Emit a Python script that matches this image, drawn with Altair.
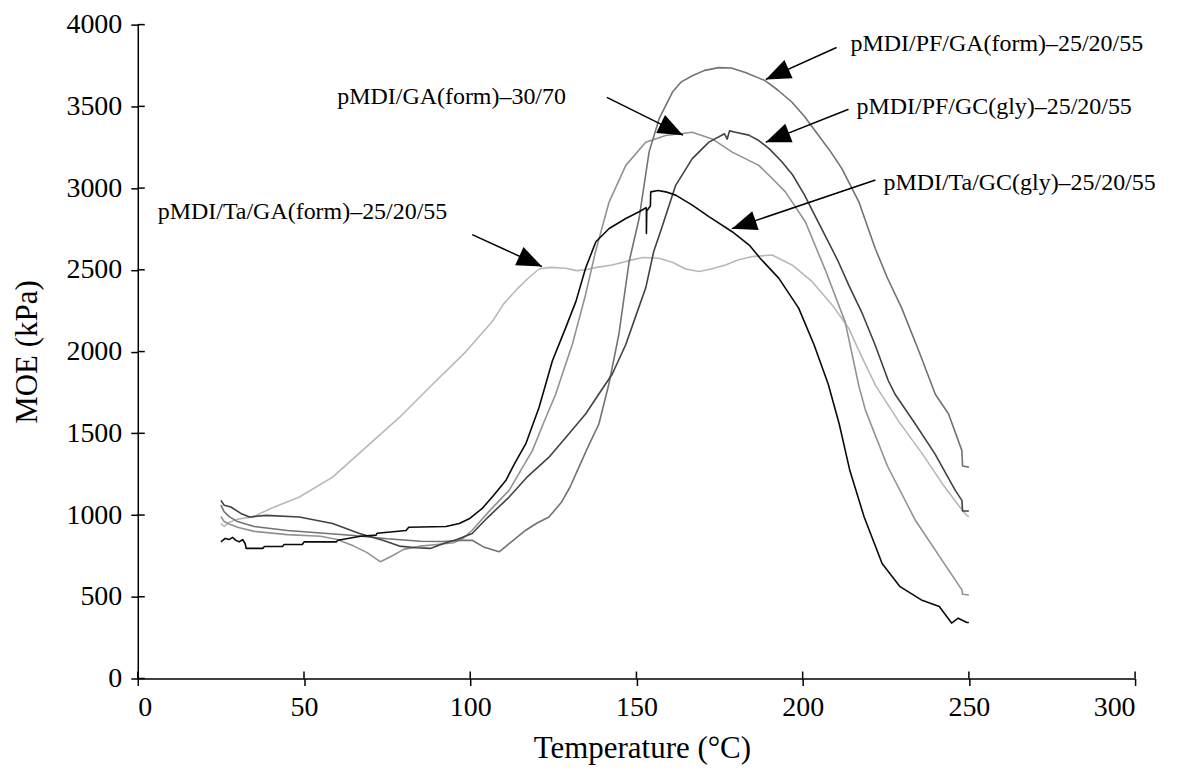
import math
import altair as alt
import pandas as pd

FONT = "Liberation Serif"

series_names = [
    "pMDI/Ta/GA(form)-25/20/55",
    "pMDI/GA(form)-30/70",
    "pMDI/PF/GA(form)-25/20/55",
    "pMDI/PF/GC(gly)-25/20/55",
    "pMDI/Ta/GC(gly)-25/20/55",
]
series_colors = ["#b8b8b8", "#929292", "#727272", "#424242", "#0a0a0a"]
series_widths = [1.6, 1.6, 1.6, 1.6, 2.0]

# pMDI/Ta/GA(form)-25/20/55 (lightest grey)
ta_ga_T = [25, 26, 27.5, 30, 34.6, 40, 48.6, 58.6, 68.6, 78.7, 88.7, 98.7, 106.7, 110, 114, 117.5,
           120.7, 124, 128.7, 132, 134.7, 138, 142.7, 148.7, 152, 156.8, 161, 164.8, 168.8, 172.5,
           176.8, 180.5, 184.8, 190.8, 196.8, 202.8, 208.8, 213.8, 217.5, 222, 229, 236, 242, 248,
           249.5, 250]
ta_ga_MOE = [948, 930, 955, 975, 988, 1040, 1110, 1232, 1414, 1597, 1800, 2000, 2185, 2290, 2380, 2450,
             2505, 2515, 2510, 2495, 2500, 2515, 2530, 2561, 2575, 2571, 2545, 2505, 2490, 2505,
             2530, 2560, 2581, 2591, 2530, 2429, 2287, 2145, 1980, 1790, 1570, 1374, 1192, 1029,
             995, 990]

# pMDI/GA(form)-30/70 (mid-light grey)
ga_T = [25, 26, 27.5, 30, 35, 45, 55, 60, 65, 69, 73, 76, 80, 85, 90, 95, 98, 100.6, 106, 111.7,
        118.7, 122, 125.7, 128, 130.7, 134.7, 137.7, 141.8, 146.8, 152.8, 158.8, 166.8, 172.8, 178.8,
        186.8, 190.8, 194.8, 200.8, 206.8, 212.8, 216.9, 218.9, 225.5, 233.9, 241.9, 247.9, 248.1, 250]
ga_MOE = [990, 960, 945, 925, 900, 880, 870, 850, 810, 770, 714, 745, 790, 810, 820, 830, 860, 907, 1030, 1151,
          1394, 1560, 1739, 1880, 2043, 2348, 2612, 2916, 3139, 3281, 3322, 3342, 3301, 3220,
          3139, 3060, 2977, 2794, 2500, 2180, 1790, 1640, 1300, 968, 724, 542, 515, 511]

# pMDI/PF/GA(form)-25/20/55 (mid grey)
pf_ga_T = [25, 26, 27.5, 30, 35, 45, 55, 65, 75, 85, 92, 97, 100.6, 104, 108.7, 112, 116.7, 120, 123.7,
           127.5, 130, 132.7, 135.5, 138.7, 141.7, 144.7, 147.8, 150.8, 153.8, 156.8, 160.8, 163.5,
           166.8, 170.5, 174.8, 178.5, 182.8, 188.8, 192.5, 196.8, 200.5, 204.8, 208.5, 211.8, 216.9,
           221.8, 225.5, 229.8, 235, 239.9, 243.9, 247.9, 248.1, 250]
pf_ga_MOE = [1060, 1020, 990, 960, 930, 905, 890, 875, 855, 840, 838, 845, 846, 805, 775, 830, 907, 950, 988,
             1080, 1170, 1293, 1420, 1557, 1800, 2104, 2550, 2814, 3220, 3423, 3586, 3650,
             3687, 3720, 3737, 3735, 3707, 3656, 3600, 3525, 3440, 3322, 3220, 3119, 2916,
             2632, 2450, 2266, 2000, 1739, 1618, 1394, 1300, 1293]

# pMDI/PF/GC(gly)-25/20/55 (dark grey)
pf_gc_T = [25, 26, 28, 31, 33.6, 38.6, 48.6, 58.6, 66.7, 73.7, 78.7, 83.7, 88, 92, 96, 100.6, 105, 111.7,
           117, 123.7, 129, 134.7, 138.7, 142.7, 146.8, 149.5, 152.8, 155.2, 157.5, 161.8, 166.8, 171.8,
           176.5, 177.3, 178, 179.8, 183.8, 186.8, 190, 193.8, 197, 200.5, 204, 207, 210.5, 214, 218,
           221.8, 225.8, 227.8, 233.9, 239.8, 245.9, 247.9, 248.1, 250]
pf_gc_MOE = [1090, 1060, 1049, 1010, 988, 998, 988, 948, 887, 846, 810, 800, 796, 826, 850, 887, 980, 1110,
             1230, 1354, 1480, 1618, 1740, 1861, 2043, 2200, 2390, 2612, 2750, 3017, 3180, 3281,
             3332, 3300, 3350, 3342, 3324, 3291, 3240, 3160, 3080, 2960, 2820, 2700, 2560, 2400, 2230,
             2040, 1820, 1739, 1557, 1374, 1151, 1090, 1025, 1025]

# pMDI/Ta/GC(gly)-25/20/55 (black)
ta_gc_T = [25, 26.3, 27.5, 28.5, 29.5, 30.5, 31.5, 32.3, 32.6, 37.6, 38.1, 43.6, 44, 49.5, 50, 59.7, 60.2,
           67, 71.7, 72, 80.7, 81.5, 92.7, 96.7, 99.7, 103.6, 107, 110.7, 113.5, 116.7, 120.7, 124.7,
           128.7, 131.8, 134.7, 137.8, 141.8, 146.8, 150.8, 152.9, 153, 153, 153.1, 154.2, 154.3,
           156.5, 158.8, 161.8, 166.8, 171.8, 178.8, 184, 187.2, 192.8, 198.8, 203.4, 207.7, 211,
           214.2, 218.5, 223.9, 229.3, 235.7, 241.1, 244.8, 246.8, 249.4, 250]
ta_gc_MOE = [836, 857, 850, 863, 845, 836, 850, 826, 796, 796, 808, 808, 820, 820, 836, 836, 846,
             870, 877, 889, 905, 925, 930, 948, 977, 1040, 1120, 1211, 1320, 1435, 1658, 1942,
             2145, 2307, 2510, 2672, 2753, 2814, 2855, 2880, 2870, 2723, 2860, 2890, 2977,
             2985, 2977, 2957, 2896, 2825, 2733, 2650, 2571, 2449, 2266, 2043, 1800, 1557,
             1272, 988, 704, 562, 481, 440, 339, 369, 343, 343]

x_ticks = [0, 50, 100, 150, 200, 250, 300]
y_ticks = [0, 500, 1000, 1500, 2000, 2500, 3000, 3500, 4000]

# annotations
ann_labels = ["pMDI/PF/GA(form)–25/20/55", "pMDI/GA(form)–30/70", "pMDI/PF/GC(gly)–25/20/55",
              "pMDI/Ta/GC(gly)–25/20/55", "pMDI/Ta/GA(form)–25/20/55"]
ann_text_T = [214.4, 60.0, 216.2, 224.3, 6.0]
ann_text_MOE = [3884, 3555, 3494, 3032, 2855]
arrow_from_T = [210.2, 141.1, 213.8, 221.9, 100.6]
arrow_from_MOE = [3860, 3555, 3482, 3050, 2715]
arrow_to_T = [188.9, 164.0, 188.9, 178.7, 121.6]
arrow_to_MOE = [3665, 3324, 3281, 2752, 2520]

W, H = 999, 655

rows = []
for name, ts, ms in [
    (series_names[0], ta_ga_T, ta_ga_MOE),
    (series_names[1], ga_T, ga_MOE),
    (series_names[2], pf_ga_T, pf_ga_MOE),
    (series_names[3], pf_gc_T, pf_gc_MOE),
    (series_names[4], ta_gc_T, ta_gc_MOE),
]:
    for i, (t, m) in enumerate(zip(ts, ms)):
        rows.append({"series": name, "T": t, "MOE": m, "i": i})
df = pd.DataFrame(rows)

angles = []
for x0, y0, x1, y1 in zip(arrow_from_T, arrow_from_MOE, arrow_to_T, arrow_to_MOE):
    dx = (x1 - x0) * W / 300.0
    dy = -(y1 - y0) * H / 4000.0
    angles.append(math.degrees(math.atan2(dx, -dy)) % 360)

ann = pd.DataFrame({
    "label": ann_labels, "tx": ann_text_T, "ty": ann_text_MOE,
    "x0": arrow_from_T, "y0": arrow_from_MOE, "x1": arrow_to_T, "y1": arrow_to_MOE,
    "angle": angles,
})

xscale = alt.Scale(domain=[0, 300], nice=False, zero=False)
yscale = alt.Scale(domain=[0, 4000], nice=False)

x_axis = alt.Axis(values=x_ticks, format="d", title="Temperature (°C)", titleX=505, titleY=70,
                  titleBaseline="middle", titleAlign="center", labelPadding=8)
y_axis = alt.Axis(values=y_ticks, format="d", title="MOE (kPa)", titleAngle=270, titleX=-110,
                  titleY=H / 2, titleBaseline="middle", titleAlign="center", labelPadding=9)

lines = alt.Chart(df).mark_line(strokeJoin="round", clip=False).encode(
    x=alt.X("T:Q", scale=xscale, axis=x_axis),
    y=alt.Y("MOE:Q", scale=yscale, axis=y_axis),
    color=alt.Color("series:N", scale=alt.Scale(domain=series_names, range=series_colors), legend=None),
    strokeWidth=alt.StrokeWidth("series:N", scale=alt.Scale(domain=series_names, range=series_widths),
                                legend=None),
    order=alt.Order("i:Q"),
)

arrows = alt.Chart(ann).mark_rule(color="black", strokeWidth=1.5).encode(
    x=alt.X("x0:Q", scale=xscale, axis=x_axis),
    y=alt.Y("y0:Q", scale=yscale, axis=y_axis),
    x2="x1:Q", y2="y1:Q",
)

heads = alt.Chart(ann).mark_point(shape="M0,0 L-0.8,2 L0.8,2 Z", size=625, filled=True,
                                  color="black", opacity=1, strokeWidth=0).encode(
    x=alt.X("x1:Q", scale=xscale, axis=x_axis),
    y=alt.Y("y1:Q", scale=yscale, axis=y_axis),
    angle=alt.Angle("angle:Q", scale=None),
)

labels = alt.Chart(ann).mark_text(align="left", baseline="middle", font=FONT, fontSize=24,
                                  color="black").encode(
    x=alt.X("tx:Q", scale=xscale, axis=x_axis),
    y=alt.Y("ty:Q", scale=yscale, axis=y_axis),
    text="label:N",
)

ytin = alt.Chart(pd.DataFrame({"v": y_ticks})).mark_rule(color="black", strokeWidth=1.5).encode(
    y=alt.Y("v:Q", scale=yscale, axis=y_axis), x=alt.value(0), x2=alt.value(7))
xtin = alt.Chart(pd.DataFrame({"v": x_ticks})).mark_rule(color="black", strokeWidth=1.5).encode(
    x=alt.X("v:Q", scale=xscale, axis=x_axis), y=alt.value(H), y2=alt.value(H - 7))

chart = alt.layer(lines, arrows, heads, labels, ytin, xtin).properties(
    width=W, height=H,
    padding={"left": 130, "top": 16, "right": 55, "bottom": 92},
    autosize=alt.AutoSizeParams(type="none"),
    background="white",
).configure_view(stroke=None).configure_axis(
    grid=False, labelFont=FONT, labelFontSize=28, labelColor="black",
    titleFont=FONT, titleFontSize=31, titleFontWeight="normal", titleColor="black",
    tickColor="black", tickSize=7, tickWidth=1.5, domainColor="black", domainWidth=1.5,
)

chart.save("out.html", embed_options={"renderer": "svg", "actions": False})
